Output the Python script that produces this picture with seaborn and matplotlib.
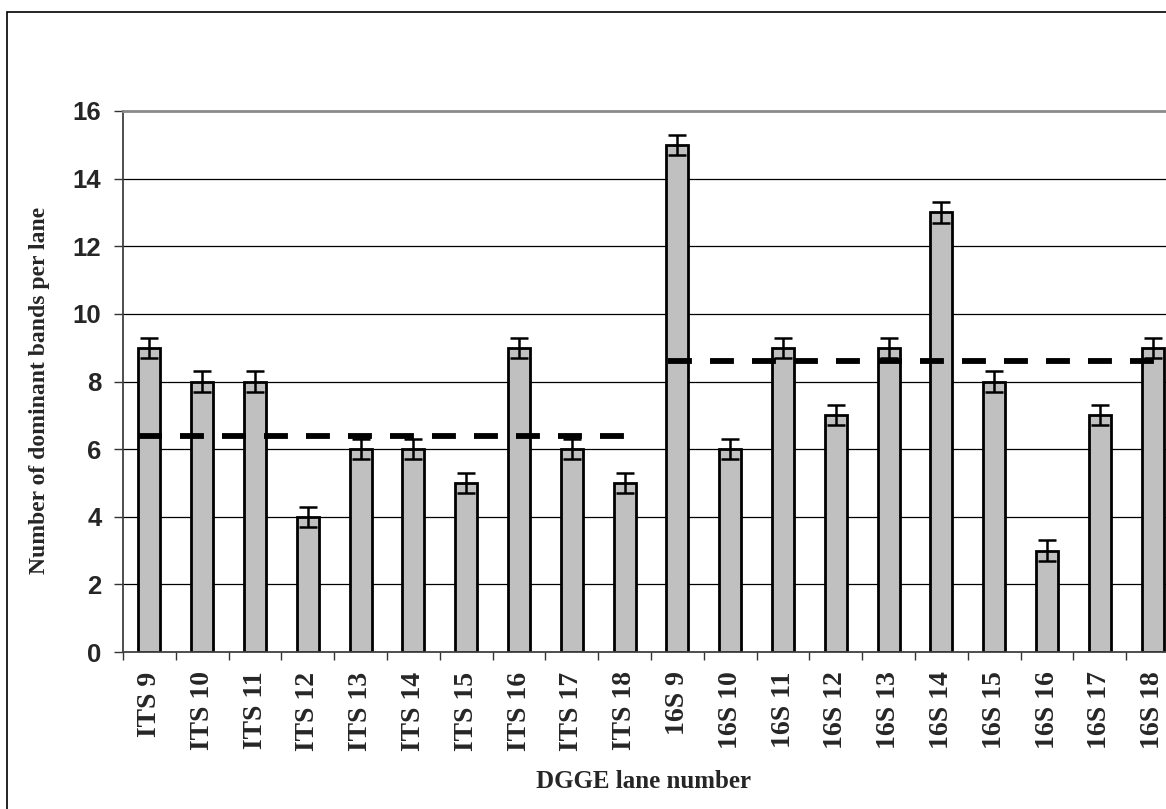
import matplotlib
matplotlib.use("Agg")
import matplotlib.pyplot as plt
from matplotlib.patches import Rectangle
import numpy as np
import pandas as pd
import seaborn as sns

# Lane labels and band counts
lanes = ["ITS 9", "ITS 10", "ITS 11", "ITS 12", "ITS 13", "ITS 14", "ITS 15",
         "ITS 16", "ITS 17", "ITS 18",
         "16S 9", "16S 10", "16S 11", "16S 12", "16S 13", "16S 14", "16S 15",
         "16S 16", "16S 17", "16S 18"]
bands = [9, 8, 8, 4, 6, 6, 5, 9, 6, 5,
         15, 6, 9, 7, 9, 13, 8, 3, 7, 9]
band_err = [0.3] * 20

# Group means (dashed reference lines)
its_mean = 6.4
s16_mean = 8.6

df = pd.DataFrame({"lane": lanes, "bands": bands})

sns.set_style("white")
plt.rcParams["font.family"] = ["Liberation Serif", "DejaVu Serif"]

W, H = 1166, 809
fig = plt.figure(figsize=(W / 100, H / 100), dpi=100)

# Plot area: starts at x=123 px, one category = 52.8 px
left_px, top_px, bottom_px = 123, 111, 652
cat_px = 52.8
ax = fig.add_axes([left_px / W, (H - bottom_px) / H,
                   20 * cat_px / W, (bottom_px - top_px) / H])

# Outer chart frame
fig.patches.append(Rectangle((7 / W, -0.2), 1.2, (H - 12) / H + 0.2,
                             transform=fig.transFigure, fill=False,
                             edgecolor="black", linewidth=1.2, zorder=0))

# Horizontal grid lines
for yv in range(2, 16, 2):
    ax.axhline(yv, color="black", linewidth=0.9, zorder=0)

sns.barplot(data=df, x="lane", y="bands", order=lanes, color="#C0C0C0",
            width=0.42, edgecolor="black", linewidth=2.0, errorbar=None,
            saturation=1, ax=ax, zorder=2)

xpos = np.arange(len(lanes))
ax.errorbar(xpos, bands, yerr=band_err, fmt="none", ecolor="black",
            elinewidth=1.8, capsize=6.5, capthick=1.8, zorder=3)

# Dashed group-mean lines
dash = (0, (4.1, 3.1))
ax.plot([-0.21, 9.02], [its_mean, its_mean], color="black", linewidth=4.2,
        linestyle=dash, solid_capstyle="butt", zorder=4)
ax.plot([9.83, 19.02], [s16_mean, s16_mean], color="black", linewidth=4.2,
        linestyle=dash, solid_capstyle="butt", zorder=4)

ax.set_xlim(-0.5, len(lanes) - 0.5)
ax.set_ylim(0, 16)
ax.set_yticks(range(0, 17, 2))
ax.set_yticklabels([str(v) for v in range(0, 17, 2)],
                   family=["Liberation Sans", "DejaVu Sans"],
                   fontweight="bold", fontsize=18.5)
ax.tick_params(axis="y", direction="out", length=6.5, width=1, pad=9,
               left=True, color="#333333")

ax.set_xticks(xpos)
ax.set_xticklabels(lanes, rotation=90, fontweight="bold", fontsize=20)
ax.set_xticks(np.arange(-0.5, len(lanes)), minor=True)
ax.tick_params(axis="x", which="major", length=0, pad=14)
ax.tick_params(axis="x", which="minor", direction="out", length=6,
               width=1, bottom=True, color="#333333")

ax.set_xlabel("")
ax.set_ylabel("")

for side in ["left", "bottom"]:
    ax.spines[side].set_color("#404040")
    ax.spines[side].set_linewidth(1.3)
ax.spines["top"].set_color("#8a8a8a")
ax.spines["top"].set_linewidth(2.0)
ax.spines["right"].set_color("#8a8a8a")
ax.spines["right"].set_linewidth(2.0)
ax.spines["top"].set_visible(True)
ax.spines["right"].set_visible(True)

fig.text(40 / W, (H - 390) / H, "Number of dominant bands per lane",
         rotation=90, ha="center", va="center", fontsize=17,
         fontweight="bold")
fig.text(644 / W, (H - 781) / H, "DGGE lane number", ha="center",
         va="center", fontsize=18, fontweight="bold")

fig.savefig("out.png", dpi=100)
